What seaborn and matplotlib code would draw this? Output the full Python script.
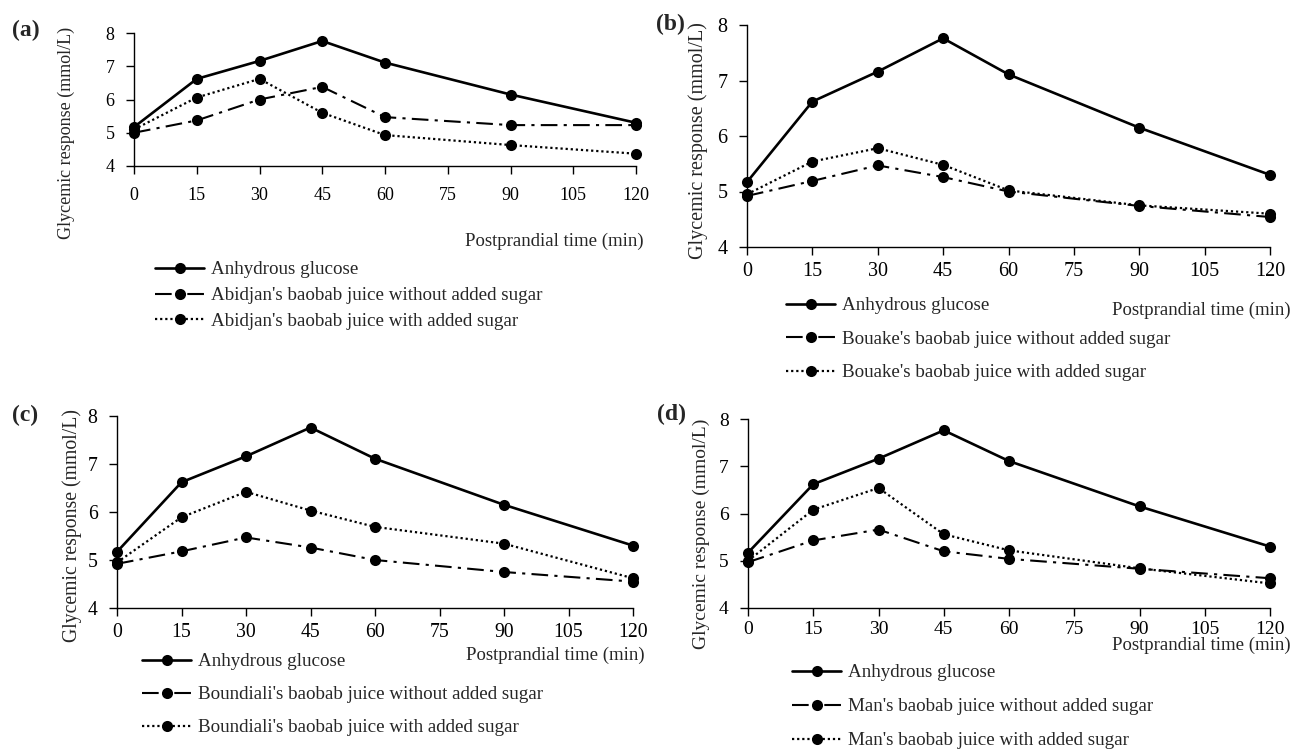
import numpy as np
import matplotlib
matplotlib.use('Agg')
import matplotlib.pyplot as plt
import seaborn as sns

# postprandial sampling times (min)
time = [0, 15, 30, 45, 60, 90, 120]
xTicks = [0, 15, 30, 45, 60, 75, 90, 105, 120]
yTicks = [4, 5, 6, 7, 8]

# reference (same curve in every panel)
glucose = [5.17, 6.62, 7.16, 7.76, 7.11, 6.15, 5.30]

abidjanNoSugar = [5.00, 5.37, 6.00, 6.38, 5.47, 5.23, 5.23]
abidjanSugar = [5.10, 6.06, 6.62, 5.60, 4.93, 4.63, 4.37]

bouakeNoSugar = [4.92, 5.19, 5.47, 5.26, 5.00, 4.74, 4.54]
bouakeSugar = [4.95, 5.54, 5.78, 5.48, 5.02, 4.75, 4.60]

boundialiNoSugar = [4.92, 5.18, 5.47, 5.26, 5.00, 4.75, 4.55]
boundialiSugar = [4.95, 5.89, 6.42, 6.03, 5.69, 5.34, 4.62]

manNoSugar = [4.97, 5.43, 5.66, 5.20, 5.04, 4.83, 4.63]
manSugar = [5.00, 6.08, 6.54, 5.56, 5.22, 4.84, 4.52]

places = ["Abidjan's", "Bouake's", "Boundiali's", "Man's"]
panelTags = ['(a)', '(b)', '(c)', '(d)']

sns.set_style('ticks')
plt.rcParams['font.family'] = ['Liberation Serif', 'DejaVu Serif']

W, H = 1298, 752
fig = plt.figure(figsize=(W/100, H/100), dpi=100)


def px(l, t, r, b):
  # pixel box -> figure fraction [left, bottom, width, height]
  return [l/W, 1-b/H, (r-l)/W, (b-t)/H]


# per panel: axes box, font size, x tick pad, xlabel coords, ylabel coords, legend top-left, label spacing, tag position
layout = [
  dict(box=px(134, 33, 636, 166), fs=13, pad=9, xl=(1.016, -0.57), yl=(-0.135, 0.25),
       leg=(155, 261), spacing=0.45, tag=(12, 30)),
  dict(box=px(747, 25, 1270, 247), fs=14.5, pad=5, xl=(1.04, -0.284), yl=(-0.094, 0.48),
       leg=(786, 297), spacing=0.85, tag=(656, 24)),
  dict(box=px(117, 416, 633, 608), fs=14.2, pad=5, xl=(1.023, -0.245), yl=(-0.087, 0.43),
       leg=(142, 653), spacing=0.82, tag=(12, 415)),
  dict(box=px(748, 419, 1270, 608), fs=14, pad=3, xl=(1.04, -0.196), yl=(-0.09, 0.39),
       leg=(792, 664), spacing=0.88, tag=(657, 414)),
]

series = [
  (abidjanNoSugar, abidjanSugar),
  (bouakeNoSugar, bouakeSugar),
  (boundialiNoSugar, boundialiSugar),
  (manNoSugar, manSugar),
]

for i, (noSugar, sugar) in enumerate(series):
  cfg = layout[i]
  ax = fig.add_axes(cfg['box'])

  sns.lineplot(x=time, y=glucose, ax=ax, color='black', linewidth=1.9,
               marker='o', markersize=8, markeredgewidth=0, clip_on=False,
               label='Anhydrous glucose')
  sns.lineplot(x=time, y=noSugar, ax=ax, color='black', linewidth=1.5,
               linestyle=(0, (8, 3, 1.5, 3)), marker='o', markersize=8,
               markeredgewidth=0, clip_on=False,
               label=places[i] + ' baobab juice without added sugar')
  sns.lineplot(x=time, y=sugar, ax=ax, color='black', linewidth=1.6,
               linestyle=(0, (1, 1.3)), marker='o', markersize=8,
               markeredgewidth=0, clip_on=False,
               label=places[i] + ' baobab juice with added sugar')

  ax.set_xlim(0, 120)
  ax.set_ylim(4, 8)
  ax.set_xticks(xTicks)
  ax.set_yticks(yTicks)
  sns.despine(ax=ax)
  for s in ['left', 'bottom']:
    ax.spines[s].set_linewidth(1.0)
    ax.spines[s].set_color('black')
  ax.tick_params(axis='x', direction='out', length=6, width=1, pad=cfg['pad'],
                 labelsize=cfg['fs'], colors='black')
  ax.tick_params(axis='y', direction='out', length=6, width=1, pad=8,
                 labelsize=cfg['fs'], colors='black')

  ax.set_xlabel('Postprandial time (min)', fontsize=13.5, ha='right', va='center')
  ax.xaxis.set_label_coords(*cfg['xl'])
  ax.set_ylabel('Glycemic response (mmol/L)', fontsize=cfg['fs'], va='center')
  ax.yaxis.set_label_coords(*cfg['yl'])

  handles, labels = ax.get_legend_handles_labels()
  ax.get_legend().remove()
  fig.legend(handles, labels, loc='upper left', frameon=False, fontsize=13.7,
             bbox_to_anchor=(cfg['leg'][0]/W, 1-cfg['leg'][1]/H),
             borderpad=0, borderaxespad=0, handlelength=2.6, handletextpad=0.35,
             labelspacing=cfg['spacing'])

  fig.text(cfg['tag'][0]/W, 1-cfg['tag'][1]/H, panelTags[i], fontsize=17,
           fontweight='bold', ha='left', va='center')

fig.savefig('out.png', dpi=100)
